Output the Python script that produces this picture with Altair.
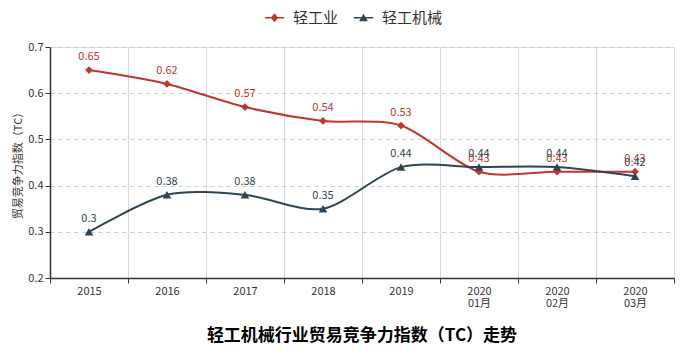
import altair as alt
import pandas as pd

categories = ["2015", "2016", "2017", "2018", "2019", "2020\n01月", "2020\n02月", "2020\n03月"]
light_industry = [0.65, 0.62, 0.57, 0.54, 0.53, 0.43, 0.43, 0.43]
light_machinery = [0.30, 0.38, 0.38, 0.35, 0.44, 0.44, 0.44, 0.42]
series_names = ["轻工业", "轻工机械"]
series_colors = ["#c23531", "#2f4554"]

rows = []
for c, v in zip(categories, light_industry):
    rows.append({"cat": c, "value": v, "series": series_names[0], "label": f"{v:g}"})
for c, v in zip(categories, light_machinery):
    rows.append({"cat": c, "value": v, "series": series_names[1], "label": f"{v:g}"})
df = pd.DataFrame(rows)

FONT = "Noto Sans CJK SC"

x_enc = alt.X(
    "cat:N",
    sort=categories,
    bandPosition=0.5,
    scale=alt.Scale(type="band", domain=categories, paddingInner=0, paddingOuter=0),
    axis=alt.Axis(
        title=None,
        labelExpr="split(datum.label, '\\n')",
        labelAngle=0,
        tickBand="extent",
        grid=True,
        gridColor="#d9d9d9",
        gridWidth=1,
        domainColor="#333333",
        domainWidth=1.5,
        tickColor="#333333",
        tickSize=5,
        labelColor="#333333",
        labelFontSize=11,
        labelFont=FONT,
        labelPadding=2,
        labelLineHeight=12,
    ),
)
y_enc = alt.Y(
    "value:Q",
    scale=alt.Scale(domain=[0.2, 0.7], nice=False, zero=False),
    axis=alt.Axis(
        title="贸易竞争力指数（TC）",
        titleFont=FONT,
        titleFontSize=11,
        titleFontWeight="normal",
        titleColor="#333333",
        titlePadding=4,
        values=[0.2, 0.3, 0.4, 0.5, 0.6, 0.7],
        format=".1f",
        grid=True,
        gridDash=[4, 4],
        gridColor="#cccccc",
        domainColor="#333333",
        domainWidth=1.5,
        tickColor="#333333",
        tickSize=5,
        labelColor="#333333",
        labelFontSize=11,
        labelFont=FONT,
    ),
)

color_scale = alt.Scale(domain=series_names, range=series_colors)

base = alt.Chart(df)

lines = base.mark_line(interpolate="cardinal", tension=0.15, strokeWidth=2).encode(
    x=x_enc, y=y_enc,
    color=alt.Color("series:N", scale=color_scale, legend=None),
)

points = base.mark_point(filled=True, opacity=1).encode(
    x=x_enc, y=y_enc,
    color=alt.Color("series:N", scale=color_scale, legend=None),
    shape=alt.Shape("series:N", scale=alt.Scale(domain=series_names, range=["diamond", "triangle-up"]), legend=None),
    size=alt.Size("series:N", scale=alt.Scale(domain=series_names, range=[60, 75]), legend=None),
)

labels = base.mark_text(dy=-13, fontSize=11, font=FONT).encode(
    x=x_enc, y=y_enc, text="label:N",
    color=alt.Color("series:N", scale=color_scale, legend=None),
)

diamond_path = "M-2.1,-0.18H2.1V0.18H-2.1Z M0,-1L0.8,0L0,1L-0.8,0Z"
triangle_path = "M-2.1,-0.18H2.1V0.18H-2.1Z M0,-0.85L0.95,0.75L-0.95,0.75Z"

legend_props = dict(
    title=None, orient="none", legendX=217, legendY=-37, direction="horizontal",
    labelFont=FONT, labelFontSize=15, labelColor="#333333",
    symbolSize=85, symbolOpacity=1, symbolStrokeWidth=0,
    labelOffset=11, columnPadding=14,
)

legend_layer = base.mark_point(filled=True, opacity=0).encode(
    x=x_enc, y=y_enc,
    color=alt.Color("series:N", scale=color_scale, legend=alt.Legend(**legend_props)),
    shape=alt.Shape("series:N", scale=alt.Scale(domain=series_names, range=[diamond_path, triangle_path]),
                    legend=alt.Legend(**legend_props)),
)

chart = alt.layer(lines, points, labels, legend_layer).resolve_scale(
    shape="independent", color="independent", size="independent"
).properties(
    width=624,
    height=231,
    autosize=alt.AutoSizeParams(type="none"),
    padding={"left": 42, "top": 39, "right": 7, "bottom": 75},
    title=alt.TitleParams(
        text="轻工机械行业贸易竞争力指数（TC）走势",
        orient="bottom",
        font=FONT,
        fontSize=17,
        fontWeight="bold",
        color="#000000",
        offset=20,
        anchor="middle",
    ),
).configure_view(stroke=None).configure(background="white")

chart.save("out.html", embed_options={"renderer": "svg", "actions": False})
